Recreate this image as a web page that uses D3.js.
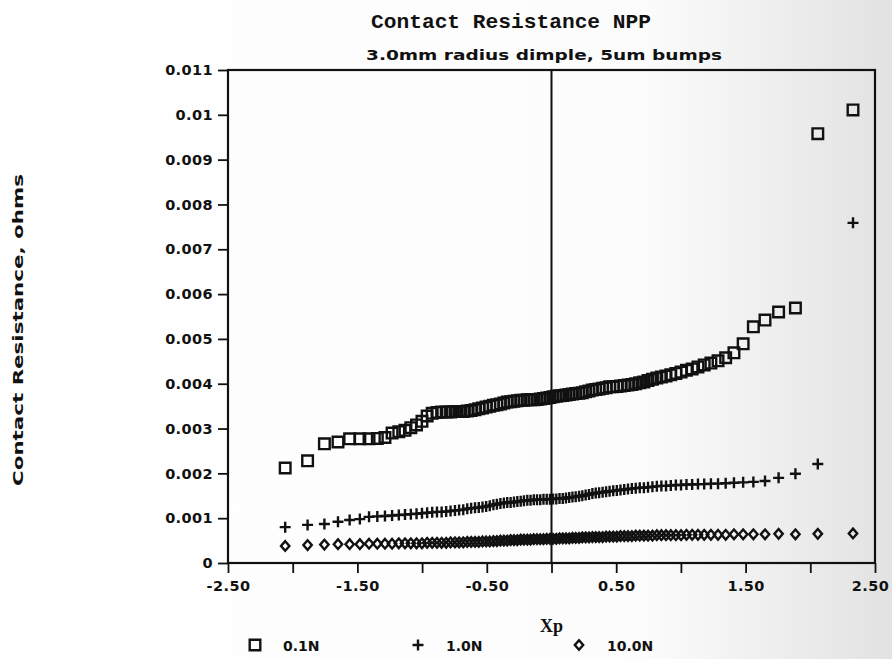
<!DOCTYPE html>
<html>
<head>
<meta charset="utf-8">
<script src="https://cdn.jsdelivr.net/npm/d3@7"></script>
<style>
  html, body { margin: 0; padding: 0; background: #fff; }
  svg { display: block; }
</style>
</head>
<body>
<div id="chart"></div>
<script>
// normal scores (Xp) shared by the three load series, lowest rank is off the plot
const xp = [
  -2.058, -1.885, -1.755, -1.650, -1.560, -1.481, -1.410, -1.346, -1.287, -1.232,
  -1.180, -1.132, -1.087, -1.043, -1.001, -0.961, -0.922, -0.885, -0.849, -0.814,
  -0.780, -0.746, -0.714, -0.682, -0.651, -0.621, -0.591, -0.562, -0.533, -0.505,
  -0.477, -0.449, -0.422, -0.395, -0.368, -0.342, -0.316, -0.290, -0.264, -0.238,
  -0.213, -0.187, -0.162, -0.137, -0.112, -0.087, -0.062, -0.037, -0.012,
  0.012, 0.037, 0.062, 0.087, 0.112, 0.137, 0.162, 0.187, 0.213, 0.238,
  0.264, 0.290, 0.316, 0.342, 0.368, 0.395, 0.422, 0.449, 0.477, 0.505,
  0.533, 0.562, 0.591, 0.621, 0.651, 0.682, 0.714, 0.746, 0.780, 0.814,
  0.849, 0.885, 0.922, 0.961, 1.001, 1.043, 1.087, 1.132, 1.180, 1.232,
  1.287, 1.346, 1.410, 1.481, 1.560, 1.650, 1.755, 1.885, 2.058, 2.330
];

// contact resistance in milliohms, sorted, one value per Xp
const load01N = [
  2.12, 2.28, 2.66, 2.70, 2.77, 2.77, 2.77, 2.78, 2.80,
  2.90, 2.93, 2.96, 3.02, 3.08, 3.16, 3.28, 3.34, 3.36, 3.37,
  3.37, 3.37, 3.38, 3.38, 3.38, 3.39, 3.40, 3.42, 3.44, 3.46,
  3.48, 3.50, 3.52, 3.53, 3.55, 3.57, 3.59, 3.60, 3.61, 3.62,
  3.63, 3.63, 3.64, 3.64, 3.64, 3.65, 3.66, 3.67, 3.68, 3.69,
  3.71, 3.72, 3.73, 3.74, 3.75, 3.76, 3.77, 3.78, 3.79, 3.80,
  3.82, 3.84, 3.86, 3.87, 3.88, 3.90, 3.91, 3.93, 3.93, 3.94,
  3.95, 3.96, 3.97, 3.98, 4.00, 4.02, 4.04, 4.07, 4.10, 4.13,
  4.15, 4.17, 4.20, 4.23, 4.26, 4.30, 4.33, 4.375, 4.42, 4.46,
  4.51, 4.58, 4.69, 4.89, 5.27, 5.42, 5.60, 5.69, 9.58, 10.11
];
const load10N = [
  0.80, 0.85, 0.87, 0.92, 0.96, 0.98, 1.03, 1.04, 1.05,
  1.06, 1.07, 1.08, 1.09, 1.10, 1.11, 1.12, 1.13, 1.14, 1.14,
  1.15, 1.16, 1.17, 1.18, 1.19, 1.21, 1.22, 1.23, 1.24, 1.25,
  1.26, 1.28, 1.30, 1.31, 1.33, 1.34, 1.35, 1.35, 1.36, 1.37,
  1.38, 1.39, 1.40, 1.40, 1.41, 1.41, 1.41, 1.42, 1.42, 1.42,
  1.43, 1.43, 1.44, 1.44, 1.45, 1.46, 1.47, 1.48, 1.49, 1.50,
  1.52, 1.53, 1.55, 1.56, 1.57, 1.58, 1.59, 1.60, 1.61, 1.62,
  1.63, 1.64, 1.65, 1.66, 1.67, 1.68, 1.68, 1.69, 1.70, 1.71,
  1.72, 1.72, 1.73, 1.74, 1.74, 1.75, 1.75, 1.76, 1.76, 1.77,
  1.77, 1.78, 1.79, 1.80, 1.81, 1.83, 1.90, 1.99, 2.21, 7.59
];
const load100N = [
  0.38, 0.40, 0.41, 0.42, 0.42, 0.42, 0.43, 0.43, 0.43,
  0.43, 0.44, 0.44, 0.44, 0.44, 0.44, 0.45, 0.45, 0.45, 0.45,
  0.45, 0.46, 0.46, 0.46, 0.46, 0.47, 0.47, 0.47, 0.47, 0.48,
  0.48, 0.48, 0.49, 0.49, 0.50, 0.50, 0.50, 0.51, 0.51, 0.51,
  0.52, 0.52, 0.52, 0.52, 0.53, 0.53, 0.53, 0.53, 0.54, 0.54,
  0.54, 0.54, 0.55, 0.55, 0.55, 0.55, 0.56, 0.56, 0.56, 0.57,
  0.57, 0.57, 0.58, 0.58, 0.58, 0.58, 0.59, 0.59, 0.59, 0.59,
  0.60, 0.60, 0.60, 0.60, 0.61, 0.61, 0.61, 0.61, 0.61, 0.62,
  0.62, 0.62, 0.62, 0.62, 0.62, 0.63, 0.63, 0.63, 0.63, 0.63,
  0.63, 0.63, 0.64, 0.64, 0.64, 0.64, 0.65, 0.64, 0.65, 0.66
];

const seriesNames = ["0.1N", "1.0N", "10.0N"];
const xTicks = [-2.5, -2, -1.5, -1, -0.5, 0, 0.5, 1, 1.5, 2, 2.5];
const xTickLabels = ["-2.50", "", "-1.50", "", "-0.50", "", "0.50", "", "1.50", "", "2.50"];
const yTicks = [0, 0.001, 0.002, 0.003, 0.004, 0.005, 0.006, 0.007, 0.008, 0.009, 0.01, 0.011];
const yTickLabels = ["0", "0.001", "0.002", "0.003", "0.004", "0.005", "0.006", "0.007", "0.008", "0.009", "0.01", "0.011"];

const width = 892, height = 659;
const margin = { top: 70, right: 17, bottom: 96, left: 228 };
const ink = "#111";
const labelFont = "DejaVu Sans, Liberation Sans, sans-serif";

const svg = d3.select("#chart").append("svg")
    .attr("width", width)
    .attr("height", height);

// faint greyish paper tone of the scan on the right
const grad = svg.append("defs").append("linearGradient").attr("id", "paper");
grad.append("stop").attr("offset", "0%").attr("stop-color", "#ffffff");
grad.append("stop").attr("offset", "72%").attr("stop-color", "#fcfcfc");
grad.append("stop").attr("offset", "100%").attr("stop-color", "#e2e2e2");
svg.append("rect").attr("width", width).attr("height", height).attr("fill", "url(#paper)");

const xScale = d3.scaleLinear().domain([-2.5, 2.5]).range([margin.left, width - margin.right]);
const yScale = d3.scaleLinear().domain([0, 0.011]).range([height - margin.bottom, margin.top]);

// titles
svg.append("text")
    .attr("x", 371).attr("y", 28)
    .attr("font-family", "Liberation Mono, DejaVu Sans Mono, monospace")
    .attr("font-weight", "bold")
    .attr("font-size", 21)
    .attr("fill", ink)
    .attr("textLength", 280).attr("lengthAdjust", "spacingAndGlyphs")
    .text("Contact Resistance NPP");

svg.append("text")
    .attr("x", 366).attr("y", 60)
    .attr("font-family", labelFont)
    .attr("font-weight", "bold")
    .attr("font-size", 14)
    .attr("fill", ink)
    .attr("textLength", 356).attr("lengthAdjust", "spacingAndGlyphs")
    .text("3.0mm radius dimple, 5um bumps");

// axes
const yAxis = svg.append("g")
    .attr("transform", `translate(${margin.left},0)`)
    .call(d3.axisLeft(yScale).tickValues(yTicks).tickSize(10).tickPadding(5)
        .tickFormat((d, i) => yTickLabels[i]));

const xAxis = svg.append("g")
    .attr("transform", `translate(0,${height - margin.bottom})`)
    .call(d3.axisBottom(xScale).tickValues(xTicks).tickSize(10).tickPadding(8)
        .tickFormat((d, i) => xTickLabels[i]));

[yAxis, xAxis].forEach(g => {
    g.select(".domain").remove();
    g.selectAll(".tick line").attr("stroke", ink).attr("stroke-width", 1.8);
    g.selectAll(".tick text")
        .attr("fill", ink)
        .attr("font-family", labelFont)
        .attr("font-weight", "bold")
        .attr("font-size", 14.5)
        .attr("letter-spacing", 0.4);
});
// last x label sits against the page edge in the original
xAxis.selectAll(".tick text").filter(d => d === 2.5).attr("dx", -5);

// plot frame and the zero line
svg.append("rect")
    .attr("x", xScale(-2.5)).attr("y", yScale(0.011))
    .attr("width", xScale(2.5) - xScale(-2.5))
    .attr("height", yScale(0) - yScale(0.011))
    .attr("fill", "none").attr("stroke", ink).attr("stroke-width", 2.2);

svg.append("line")
    .attr("x1", xScale(0)).attr("x2", xScale(0))
    .attr("y1", yScale(0.011)).attr("y2", yScale(0))
    .attr("stroke", ink).attr("stroke-width", 2);

// axis titles
svg.append("text")
    .attr("transform", "translate(23,330) rotate(-90)")
    .attr("text-anchor", "middle")
    .attr("font-family", labelFont)
    .attr("font-weight", "bold")
    .attr("font-size", 14)
    .attr("fill", ink)
    .attr("textLength", 312).attr("lengthAdjust", "spacingAndGlyphs")
    .text("Contact Resistance, ohms");

svg.append("text")
    .attr("x", xScale(0)).attr("y", 632)
    .attr("text-anchor", "middle")
    .attr("font-family", "Liberation Serif, serif")
    .attr("font-weight", "bold")
    .attr("font-size", 18)
    .attr("fill", ink)
    .text("Xp");

// markers
const markerPaths = {
    square: "M-5.3,-5.3H5.3V5.3H-5.3Z",
    cross: "M-5.5,0H5.5M0,-5.5V5.5",
    diamond: "M0,-4.8L4.2,0L0,4.8L-4.2,0Z"
};
const series = [
    { name: seriesNames[0], values: load01N, shape: "square" },
    { name: seriesNames[1], values: load10N, shape: "cross" },
    { name: seriesNames[2], values: load100N, shape: "diamond" }
];

const plot = svg.append("g");
series.forEach(s => {
    plot.append("g")
        .selectAll("path")
        .data(s.values.map((v, i) => ({ x: xp[i], y: v / 1000 })))
        .enter()
        .append("path")
        .attr("transform", d => `translate(${xScale(d.x)},${yScale(d.y)})`)
        .attr("d", markerPaths[s.shape])
        .attr("fill", "none")
        .attr("stroke", ink)
        .attr("stroke-width", 2.4);
});

// legend
const legendX = [255, 418, 579];
const legend = svg.append("g");
series.forEach((s, i) => {
    legend.append("path")
        .attr("transform", `translate(${legendX[i]},645)`)
        .attr("d", markerPaths[s.shape])
        .attr("fill", "none")
        .attr("stroke", ink)
        .attr("stroke-width", 2.4);
    legend.append("text")
        .attr("x", legendX[i] + 28).attr("y", 650.5)
        .attr("font-family", labelFont)
        .attr("font-weight", "bold")
        .attr("font-size", 14)
        .attr("fill", ink)
        .text(s.name);
});
</script>
</body>
</html>
